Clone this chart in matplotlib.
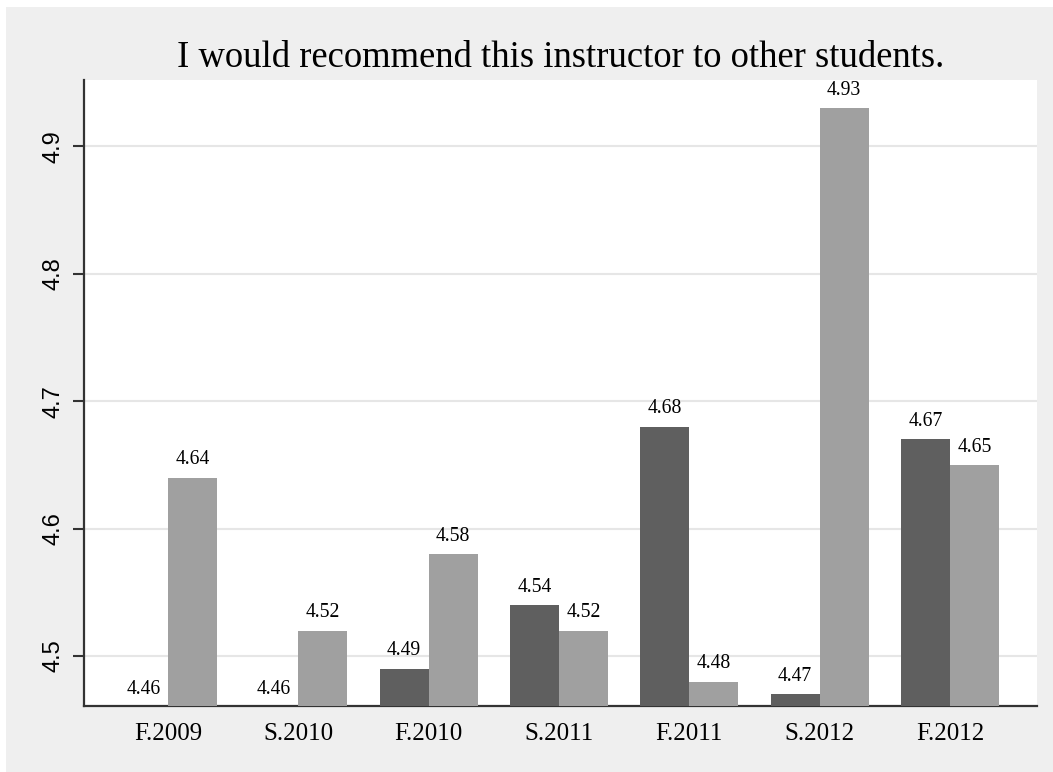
import matplotlib
matplotlib.use("Agg")
import matplotlib.pyplot as plt
import numpy as np
from matplotlib.patches import Rectangle

categories = ["F.2009", "S.2010", "F.2010", "S.2011", "F.2011", "S.2012", "F.2012"]
series_dark = [4.46, 4.46, 4.49, 4.54, 4.68, 4.47, 4.67]
series_light = [4.64, 4.52, 4.58, 4.52, 4.48, 4.93, 4.65]
yticks = [4.5, 4.6, 4.7, 4.8, 4.9]
title = "I would recommend this instructor to other students."

W, H = 1053, 772
dpi = 100
fig = plt.figure(figsize=(W / dpi, H / dpi), dpi=dpi, facecolor="white")
bg = Rectangle((6 / W, 0), 1 - 6 / W, 1 - 7 / H, transform=fig.transFigure,
               facecolor="#EFEFEF", edgecolor="none", zorder=-10)
fig.patches.append(bg)

left, right, top, bottom = 84, 1037, 80, 706
ax = fig.add_axes([left / W, 1 - bottom / H, (right - left) / W, (bottom - top) / H])
ax.set_facecolor("white")

ymin = 4.4608
ymax = 4.952
x = np.arange(len(categories))
bw = 0.376
dark_c = "#5F5F5F"
light_c = "#A0A0A0"
b1 = ax.bar(x - bw / 2, np.array(series_dark) - ymin, bw, bottom=ymin, color=dark_c, zorder=3)
b2 = ax.bar(x + bw / 2, np.array(series_light) - ymin, bw, bottom=ymin, color=light_c, zorder=3)

serif = ["Liberation Serif", "DejaVu Serif"]
for xs, vals in [(x - bw / 2, series_dark), (x + bw / 2, series_light)]:
    for xi, v in zip(xs, vals):
        ax.annotate(f"{v:.2f}", (xi, v), xytext=(0, 6), textcoords="offset points",
                    ha="center", va="bottom", fontsize=14.2, family=serif, zorder=4,
                    annotation_clip=False)

ax.set_xlim(-0.645, len(categories) - 1 + 0.668)
ax.set_ylim(ymin, ymax)
ax.set_yticks(yticks)
ax.set_yticklabels([f"{t:.1f}" for t in yticks], rotation=90, va="center",
                   fontsize=17, family=["Liberation Sans", "DejaVu Sans"])
ax.set_xticks(x)
ax.set_xticklabels(categories, fontsize=18, family=serif)
ax.tick_params(axis="x", length=0, pad=12)
ax.tick_params(axis="y", length=8, width=1.5, color="#333333", pad=6)
ax.grid(axis="y", color="#E6E6E6", linewidth=1.5, zorder=0)
ax.set_axisbelow(True)
for s in ["top", "right"]:
    ax.spines[s].set_visible(False)
for s in ["left", "bottom"]:
    ax.spines[s].set_color("#333333")
    ax.spines[s].set_linewidth(1.6)

fig.text((left + right) / 2 / W + 0.0, 1 - 58 / H, title, ha="center", va="center",
         fontsize=26.4, family=serif)

fig.savefig("out.png", dpi=dpi, facecolor=fig.get_facecolor())
